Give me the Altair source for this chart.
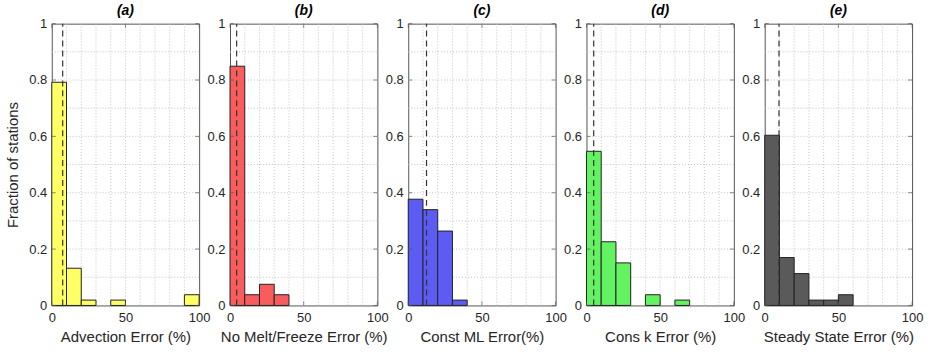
import altair as alt
import pandas as pd

bin_starts = [0, 10, 20, 30, 40, 50, 60, 70, 80, 90]
bin_width = 10

panel_tags = ["(a)", "(b)", "(c)", "(d)", "(e)"]
x_titles = ["Advection Error (%)", "No Melt/Freeze Error (%)", "Const ML Error(%)",
            "Cons k Error (%)", "Steady State Error (%)"]
fractions = [
    [0.792, 0.132, 0.019, 0.0, 0.019, 0.0, 0.0, 0.0, 0.0, 0.038],
    [0.849, 0.038, 0.075, 0.038, 0.0, 0.0, 0.0, 0.0, 0.0, 0.0],
    [0.377, 0.340, 0.264, 0.019, 0.0, 0.0, 0.0, 0.0, 0.0, 0.0],
    [0.547, 0.226, 0.151, 0.0, 0.038, 0.0, 0.019, 0.0, 0.0, 0.0],
    [0.604, 0.170, 0.113, 0.019, 0.019, 0.038, 0.0, 0.0, 0.0, 0.0],
]
medians = [7.4, 4.5, 12.4, 4.9, 9.7]
colors = ["#ffff66", "#f85c5c", "#5c5cf2", "#62f262", "#5a5a5a"]

x_ticks = [0, 50, 100]
y_ticks = [0, 0.2, 0.4, 0.6, 0.8, 1.0]
x_grid = [10, 20, 30, 40, 50, 60, 70, 80, 90]
y_grid = [0.1, 0.2, 0.3, 0.4, 0.5, 0.6, 0.7, 0.8, 0.9]

FONT = "Liberation Sans"
W, H = 148, 283
GRID = "#c4c4c4"
FRAME = "#555555"


def panel(i):
    df = pd.DataFrame({
        "start": bin_starts,
        "end": [s + bin_width for s in bin_starts],
        "frac": fractions[i],
    })
    df = df[df["frac"] > 0]
    xscale = alt.Scale(domain=[0, 100], nice=False)
    yscale = alt.Scale(domain=[0, 1], nice=False)
    xaxis = alt.Axis(
        values=x_ticks, title=x_titles[i], format="d",
        labelOverlap=False, grid=False,
        ticks=False, domain=False, labelFontSize=13, labelFont=FONT,
        labelColor="#262626", labelPadding=6, titleFont=FONT, titleFontSize=15,
        titleFontWeight="normal", titleColor="#262626", titlePadding=5,
        labelFlush=False,
    )
    yaxis = alt.Axis(
        values=y_ticks, format="~g",
        title="Fraction of stations" if i == 0 else None,
        labelOverlap=False, grid=False,
        ticks=False, domain=False, labelFontSize=13, labelFont=FONT,
        labelColor="#262626", labelPadding=5, titleFont=FONT, titleFontSize=15,
        titleFontWeight="normal", titleColor="#262626", titlePadding=8,
        labelFlush=False,
    )
    vgrid = alt.Chart(pd.DataFrame({"g": x_grid, "lo": 0.0, "hi": 1.0})).mark_rule(
        color=GRID, strokeDash=[1, 2], strokeWidth=1
    ).encode(
        x=alt.X("g:Q", scale=xscale, axis=xaxis),
        y=alt.Y("lo:Q", scale=yscale, axis=yaxis),
        y2="hi:Q",
    )
    hgrid = alt.Chart(pd.DataFrame({"g": y_grid, "lo": 0.0, "hi": 100.0})).mark_rule(
        color=GRID, strokeDash=[1, 2], strokeWidth=1
    ).encode(
        y=alt.Y("g:Q", scale=yscale),
        x=alt.X("lo:Q", scale=xscale),
        x2="hi:Q",
    )
    bars = alt.Chart(df).mark_bar(
        color=colors[i], stroke="#222222", strokeWidth=1, opacity=1
    ).encode(
        x=alt.X("start:Q", scale=xscale),
        x2="end:Q",
        y=alt.Y("frac:Q", scale=yscale),
        y2=alt.datum(0),
    )
    med = alt.Chart(pd.DataFrame({"m": [medians[i]], "lo": [0.0], "hi": [1.0]})).mark_rule(
        color="#333333", strokeDash=[6, 4], strokeWidth=1.2
    ).encode(
        x=alt.X("m:Q", scale=xscale),
        y=alt.Y("lo:Q", scale=yscale),
        y2="hi:Q",
    )
    # inward tick marks on all four sides (MATLAB box style)
    xt = pd.DataFrame({"v": x_ticks})
    yt = pd.DataFrame({"v": y_ticks})
    xt_bot = alt.Chart(xt).mark_tick(orient="vertical", size=4, yOffset=-2,
                                     color=FRAME, thickness=1).encode(
        x=alt.X("v:Q", scale=xscale), y=alt.datum(0, scale=yscale) if False else alt.YDatum(0))
    xt_top = alt.Chart(xt).mark_tick(orient="vertical", size=4, yOffset=2,
                                     color=FRAME, thickness=1).encode(
        x=alt.X("v:Q", scale=xscale), y=alt.YDatum(1))
    yt_left = alt.Chart(yt).mark_tick(orient="horizontal", size=4, xOffset=2,
                                      color=FRAME, thickness=1).encode(
        y=alt.Y("v:Q", scale=yscale), x=alt.XDatum(0))
    yt_right = alt.Chart(yt).mark_tick(orient="horizontal", size=4, xOffset=-2,
                                       color=FRAME, thickness=1).encode(
        y=alt.Y("v:Q", scale=yscale), x=alt.XDatum(100))
    return alt.layer(vgrid, hgrid, bars, med, xt_bot, xt_top, yt_left, yt_right).properties(
        width=W, height=H,
        title=alt.TitleParams(panel_tags[i], font=FONT, fontSize=14,
                              fontWeight="bold", fontStyle="italic",
                              color="#000000", offset=0),
    )


chart = alt.hconcat(*[panel(i) for i in range(5)], spacing=31, bounds="flush").properties(
    padding={"left": 5, "top": 2, "right": 5, "bottom": 5},
    background="white",
).configure_view(
    stroke=FRAME, strokeWidth=1
)

chart.save("out.html", embed_options={"renderer": "svg", "actions": False})
